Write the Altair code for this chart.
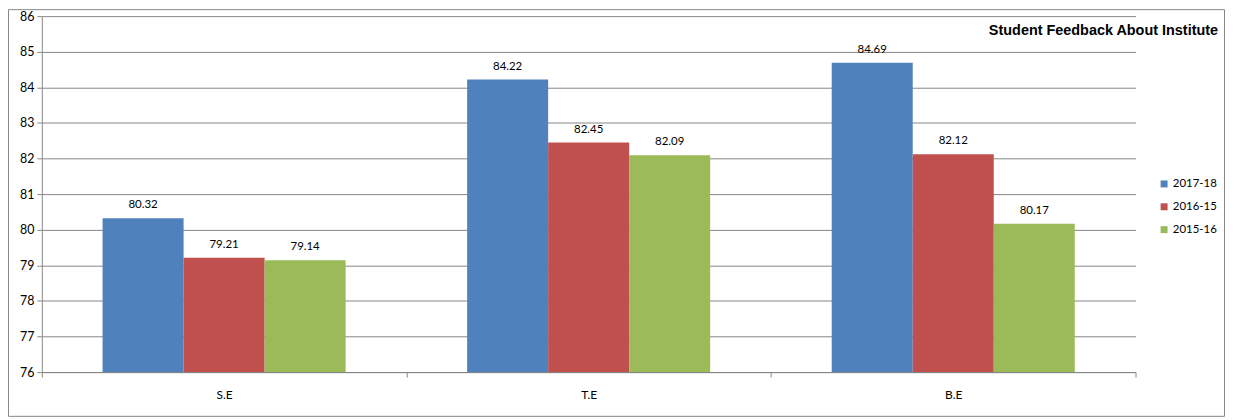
import altair as alt
import pandas as pd

categories = ["S.E", "T.E", "B.E"]
series = ["2017-18", "2016-15", "2015-16"]
v_2017_18 = [80.32, 84.22, 84.69]
v_2016_15 = [79.21, 82.45, 82.12]
v_2015_16 = [79.14, 82.09, 80.17]
colors = ["#4F81BD", "#C0504D", "#9BBB59"]
y_ticks = list(range(76, 87))
chart_title = "Student Feedback About Institute"

rows = []
for s, vals in zip(series, [v_2017_18, v_2016_15, v_2015_16]):
    for c, v in zip(categories, vals):
        rows.append({"cat": c, "series": s, "value": v})
df = pd.DataFrame(rows)

W, H = 1100, 358
FONT = "Lato"
GRAY = "#868686"

y_axis = alt.Axis(title=None, values=y_ticks, tickCount=11, labelOverlap=False,
                  grid=True, gridColor=GRAY,
                  domainColor=GRAY, tickColor=GRAY, tickSize=5,
                  labelPadding=3, labelFontSize=12.5, labelFont=FONT,
                  labelColor="#000000")

base = alt.Chart(df).encode(
    x=alt.X("cat:N", sort=categories,
            scale=alt.Scale(paddingInner=0, paddingOuter=0),
            axis=alt.Axis(title=None, labelAngle=0, tickBand="extent", grid=False,
                          domainColor=GRAY, tickColor=GRAY, tickSize=5,
                          labelPadding=13, labelFontSize=12, labelFont=FONT,
                          labelColor="#000000")),
    xOffset=alt.XOffset("series:N", sort=series,
                        scale=alt.Scale(paddingInner=0, paddingOuter=0.75)),
    y=alt.Y("value:Q",
            scale=alt.Scale(domain=[76, 86], zero=False, nice=False),
            axis=y_axis),
)

bars = base.mark_bar().encode(
    y2=alt.Y2Datum(76),
    color=alt.Color("series:N", sort=series,
                    scale=alt.Scale(domain=series, range=colors),
                    legend=alt.Legend(title=None, orient="none", legendX=1123, legendY=163,
                                      symbolType="square", symbolSize=49, symbolStrokeWidth=0,
                                      labelFontSize=11.5, labelFont=FONT, labelColor="#000000",
                                      rowPadding=10, labelOffset=3)),
)

labels = base.mark_text(dy=-13, fontSize=11.5, font=FONT, color="#000000").encode(
    text=alt.Text("value:Q", format=".2f"),
)

title_mark = alt.Chart(pd.DataFrame({"t": [chart_title]})).mark_text(
    align="right", baseline="middle", fontSize=14.5, fontWeight="bold",
    font="Liberation Sans", color="#000000"
).encode(x=alt.value(1183), y=alt.value(15), text="t:N")

border = alt.Chart(pd.DataFrame({"a": [0]})).mark_rect(
    fill="transparent", stroke=GRAY, strokeWidth=1
).encode(x=alt.value(-33.5), x2=alt.value(1189.5), y=alt.value(-6.5), y2=alt.value(402.5))

chart = alt.layer(border, bars, labels, title_mark).properties(
    width=W, height=H,
    autosize=alt.AutoSizeParams(type="none"),
    padding={"left": 34, "top": 7, "right": 91, "bottom": 46},
    background="white",
).configure_view(strokeWidth=0)

chart.save("out.html", embed_options={"renderer": "svg", "actions": False})
